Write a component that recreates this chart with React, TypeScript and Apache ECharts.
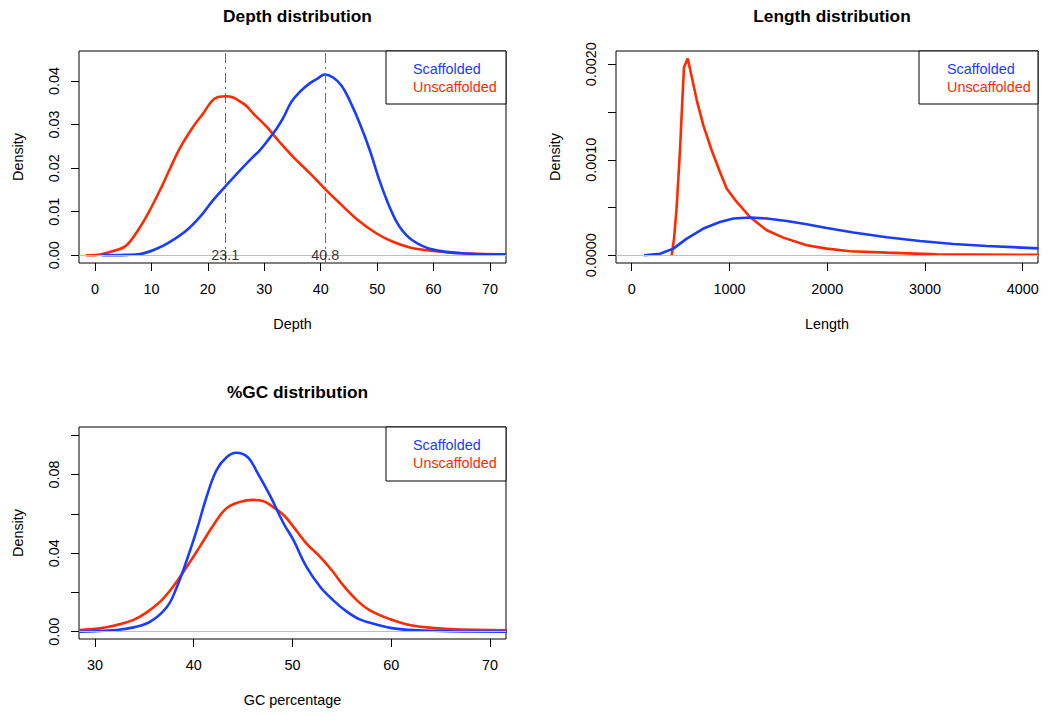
import React, { useEffect, useRef } from "react";
import * as echarts from "echarts";

const FONT = "'Liberation Sans', Arial, Helvetica, sans-serif";
const BLUE = "#1a3cff";
const RED = "#ff2a00";

// ---- Depth distribution ----
const depthScafX = [1.2, 5.6, 8.0, 10.9, 13.3, 16.2, 18.6, 20.9, 23.3, 25.7, 28.0, 29.2, 30.4, 32.2, 33.3, 34.8, 36.3, 38.1, 39.5, 40.7, 42.2, 43.7, 45.1, 46.9, 48.7, 50.4, 52.2, 54.0, 56.3, 59.9, 65.8, 72.8];
const depthScafY = [0, 0.0001, 0.0003, 0.0015, 0.0031, 0.0057, 0.0088, 0.0126, 0.0161, 0.0195, 0.0226, 0.0241, 0.026, 0.0291, 0.0314, 0.0352, 0.0375, 0.0395, 0.0406, 0.0415, 0.0408, 0.0389, 0.0356, 0.0303, 0.0241, 0.0172, 0.0111, 0.0065, 0.0034, 0.0013, 0.0004, 0.0002];
const depthUnscX = [-1.6, 0.9, 3.8, 5.6, 8.0, 9.7, 11.5, 13.3, 15.0, 17.4, 19.2, 20.7, 21.8, 23.2, 24.5, 25.7, 26.8, 28.0, 30.4, 32.7, 35.1, 38.1, 40.7, 43.4, 46.3, 49.9, 52.8, 55.8, 59.9, 65.8, 72.8];
const depthUnscY = [0, 0.0002, 0.0012, 0.0023, 0.0065, 0.0103, 0.0149, 0.0199, 0.0245, 0.0295, 0.0326, 0.0354, 0.0363, 0.0365, 0.0362, 0.0353, 0.0343, 0.0326, 0.0295, 0.026, 0.0226, 0.0188, 0.0153, 0.0119, 0.0084, 0.005, 0.0031, 0.0018, 0.001, 0.0004, 0.0002];
const depthModes = [23.1, 40.8];
const depthXTicks = [0, 10, 20, 30, 40, 50, 60, 70];
const depthYTicks = [0, 0.01, 0.02, 0.03, 0.04];

// ---- Length distribution ----
const lenScafX = [126, 290, 426, 563, 733, 903, 1040, 1210, 1381, 1586, 1790, 1995, 2267, 2609, 2949, 3290, 3632, 4160];
const lenScafY = [0, 0.000017, 0.00007, 0.000175, 0.00028, 0.000349, 0.000385, 0.000395, 0.000385, 0.00036, 0.000325, 0.000286, 0.000238, 0.000189, 0.00015, 0.000118, 0.000097, 0.000073];
const lenUnscX = [409, 433, 460, 494, 518, 535, 573, 614, 665, 733, 818, 903, 971, 1074, 1210, 1381, 1551, 1790, 1995, 2233, 2609, 3120, 4160];
const lenUnscY = [0, 0.000175, 0.000506, 0.0011, 0.001625, 0.00197, 0.00206, 0.00187, 0.001625, 0.00136, 0.0011, 0.000873, 0.000699, 0.000559, 0.000401, 0.000262, 0.000185, 0.000105, 0.00007, 0.000042, 0.000028, 0.00001, 0.000005];
const lenXTicks = [0, 1000, 2000, 3000, 4000];
const lenYTicks = [0, 0.0005, 0.001, 0.0015, 0.002];
const lenYLabels = [0, 0.001, 0.002];

// ---- GC distribution ----
const gcScafX = [28.4, 32.2, 33.9, 35.6, 37.3, 38.3, 39.3, 40.3, 41.3, 42.3, 43.3, 44.3, 45.5, 46.4, 47.7, 49.1, 50.1, 51.4, 52.8, 54.1, 55.5, 56.8, 58.5, 60.2, 62.6, 65.9, 71.7];
const gcScafY = [0, 0.0009, 0.0022, 0.0051, 0.0127, 0.0229, 0.0365, 0.0517, 0.0687, 0.0822, 0.0887, 0.0911, 0.0887, 0.0814, 0.0695, 0.0551, 0.0466, 0.0331, 0.0229, 0.0161, 0.0102, 0.0063, 0.0037, 0.0017, 0.0007, 0.0002, 0];
const gcUnscX = [28.4, 30.5, 32.2, 33.9, 35.2, 36.6, 37.9, 39.3, 40.6, 42.0, 43.3, 44.7, 46.0, 47.0, 48.0, 49.1, 50.1, 51.4, 52.8, 54.1, 55.1, 56.5, 57.8, 59.9, 61.6, 63.6, 65.9, 71.7];
const gcUnscY = [0.0009, 0.0017, 0.0034, 0.006, 0.0097, 0.0153, 0.0229, 0.0331, 0.0432, 0.0543, 0.0628, 0.0661, 0.0671, 0.0666, 0.0636, 0.0594, 0.0534, 0.045, 0.0381, 0.0305, 0.0238, 0.0161, 0.011, 0.0063, 0.0037, 0.0022, 0.0014, 0.0007];
const gcXTicks = [30, 40, 50, 60, 70];
const gcYTicks = [0, 0.02, 0.04, 0.06, 0.08, 0.1];
const gcYLabels = [0, 0.04, 0.08];

const titles = ["Depth distribution", "Length distribution", "%GC distribution"];
const xNames = ["Depth", "Length", "GC percentage"];
const legendNames = ["Scaffolded", "Unscaffolded"];

const zip = (xs: number[], ys: number[]) => xs.map((x, i) => [x, ys[i]]);

const grids = [
  { left: 79, top: 51, width: 427, height: 212 },
  { left: 616, top: 51, width: 422, height: 212 },
  { left: 79, top: 427, width: 427, height: 212 },
];
const xRanges = [[-2.835, 72.83], [-160.6, 4156], [28.38, 71.62]];
const yRanges = [[-0.00177, 0.04688], [-0.0000806, 0.002139], [-0.00372, 0.10423]];

export default function App() {
  const ref = useRef<HTMLDivElement>(null);
  useEffect(() => {
    if (!ref.current) return;
    const chart = echarts.init(ref.current, null, { renderer: "svg" });

    const xTicks = [depthXTicks, lenXTicks, gcXTicks];
    const yTicks = [depthYTicks, lenYTicks, gcYTicks];
    const yLabels = [depthYTicks, lenYLabels, gcYLabels];
    const yDigits = [2, 4, 2];

    const xAxis = grids.map((_, i) => ({
      type: "value",
      gridIndex: i,
      min: xRanges[i][0],
      max: xRanges[i][1],
      name: xNames[i],
      nameLocation: "middle",
      nameGap: 54,
      nameTextStyle: { fontFamily: FONT, fontSize: 14.4, color: "#000" },
      axisLine: { show: false, onZero: false },
      splitLine: { show: false },
      axisTick: { show: true, length: 8, customValues: xTicks[i], lineStyle: { color: "#000", width: 1 } },
      axisLabel: {
        show: true,
        customValues: xTicks[i],
        margin: 19,
        fontFamily: FONT,
        fontSize: 14.4,
        color: "#000",
        formatter: (v: number) => String(v),
      },
    }));

    const yAxis = grids.map((_, i) => ({
      type: "value",
      gridIndex: i,
      min: yRanges[i][0],
      max: yRanges[i][1],
      name: "Density",
      nameLocation: "middle",
      nameGap: 54,
      nameRotate: 90,
      nameTextStyle: { fontFamily: FONT, fontSize: 14.4, color: "#000" },
      axisLine: { show: false, onZero: false },
      splitLine: { show: false },
      axisTick: { show: true, length: 8, customValues: yTicks[i], lineStyle: { color: "#000", width: 1 } },
      axisLabel: {
        show: true,
        customValues: yLabels[i],
        rotate: 90,
        margin: 18,
        fontFamily: FONT,
        fontSize: 14.4,
        color: "#000",
        formatter: (v: number) => v.toFixed(yDigits[i]),
      },
    }));

    const scaf = [zip(depthScafX, depthScafY), zip(lenScafX, lenScafY), zip(gcScafX, gcScafY)];
    const unsc = [zip(depthUnscX, depthUnscY), zip(lenUnscX, lenUnscY), zip(gcUnscX, gcUnscY)];
    const smooth = [0.4, false, 0.4];

    const series: any[] = [];
    grids.forEach((_, i) => {
      series.push({
        type: "line",
        name: "zero" + i,
        xAxisIndex: i,
        yAxisIndex: i,
        data: [],
        silent: true,
        markLine: {
          silent: true,
          symbol: "none",
          label: { show: false },
          lineStyle: { color: "#bebebe", type: "solid", width: 1 },
          data: [{ yAxis: 0 }],
        },
      });
      if (i === 0) {
        series.push({
          type: "line",
          name: "modes",
          xAxisIndex: 0,
          yAxisIndex: 0,
          data: [],
          silent: true,
          markLine: {
            silent: true,
            symbol: "none",
            label: { show: false },
            lineStyle: { color: "#6e6e6e", type: [10, 4, 2, 4], width: 1 },
            data: depthModes.map((m) => ({ xAxis: m })),
          },
        });
      }
      series.push({
        type: "line",
        name: "Unscaffolded",
        xAxisIndex: i,
        yAxisIndex: i,
        data: unsc[i],
        showSymbol: false,
        symbol: "none",
        smooth: smooth[i],
        lineStyle: { color: RED, width: 2.6 },
        z: 3,
      });
      series.push({
        type: "line",
        name: "Scaffolded",
        xAxisIndex: i,
        yAxisIndex: i,
        data: scaf[i],
        showSymbol: false,
        symbol: "none",
        smooth: smooth[i],
        lineStyle: { color: BLUE, width: 2.6 },
        z: 4,
      });
    });
    series.push({
      type: "scatter",
      name: "modeLabels",
      xAxisIndex: 0,
      yAxisIndex: 0,
      symbolSize: 0,
      data: depthModes.map((m) => [m, 0]),
      z: 6,
      label: {
        show: true,
        position: "inside",
        fontFamily: FONT,
        fontSize: 14.4,
        color: "#000",
        formatter: (p: any) => String(p.value[0]),
      },
    });

    const titleTops = [2, 2, 378];
    const title = grids.map((g, i) => ({
      text: titles[i],
      left: g.left + g.width / 2,
      top: titleTops[i],
      textAlign: "center",
      textStyle: { fontFamily: FONT, fontSize: 17.3, fontWeight: "bold", color: "#000" },
    }));

    const legendBoxes = [
      { x: 386, y: 51, w: 120, h: 53, tx: 413 },
      { x: 919, y: 51, w: 119, h: 53, tx: 947 },
      { x: 386, y: 427, w: 120, h: 54, tx: 413 },
    ];
    const graphic: any[] = [];
    legendBoxes.forEach((b) => {
      graphic.push({
        type: "rect",
        shape: { x: b.x, y: b.y, width: b.w, height: b.h },
        style: { fill: "#fff", stroke: "#000", lineWidth: 1 },
        z: 100,
      });
      [BLUE, RED].forEach((c, k) => {
        graphic.push({
          type: "text",
          x: b.tx,
          y: b.y + 18 + k * 18,
          style: {
            text: legendNames[k],
            fill: c,
            font: `14.4px ${FONT}`,
            textAlign: "left",
            textVerticalAlign: "middle",
          },
          z: 101,
        });
      });
    });

    chart.setOption({
      animation: false,
      backgroundColor: "#fff",
      title,
      grid: grids.map((g) => ({ ...g, show: true, borderColor: "#000", borderWidth: 1, backgroundColor: "transparent", containLabel: false })),
      xAxis,
      yAxis,
      series,
      graphic,
    });
    return () => chart.dispose();
  }, []);
  return <div ref={ref} style={{ position: "fixed", left: 0, top: 0, width: 1048, height: 717 }} />;
}
